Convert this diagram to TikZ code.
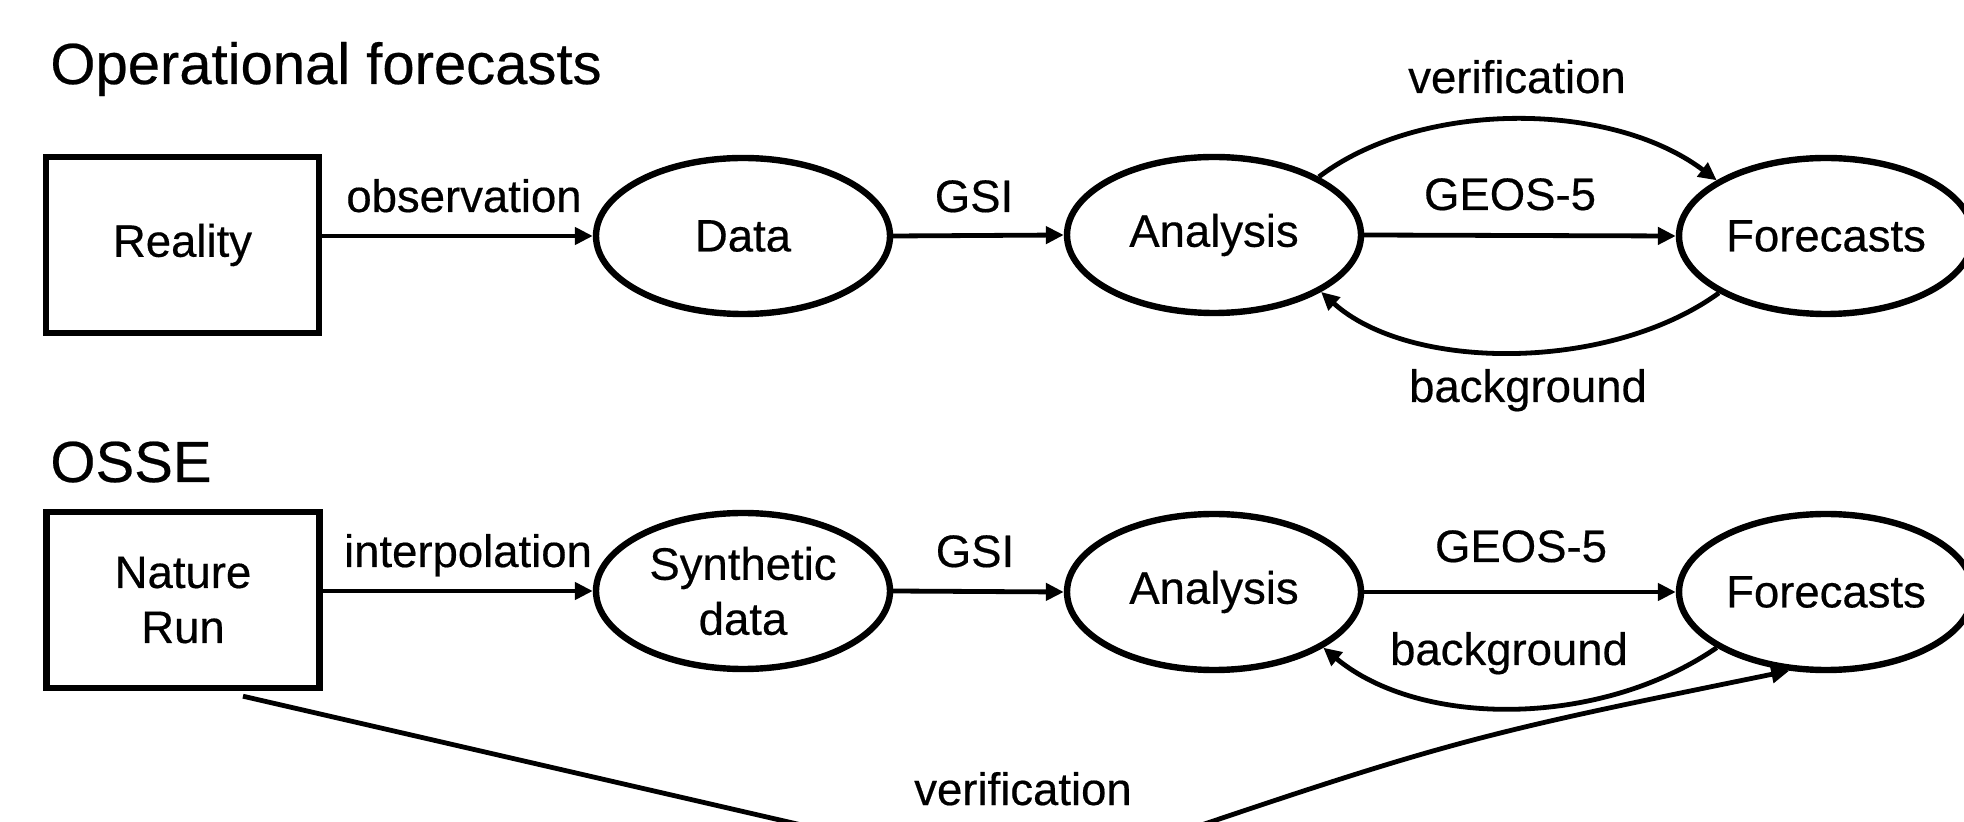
\documentclass[tikz,border=0pt]{standalone}
\usepackage{fontspec}
\setmainfont{Liberation Sans}[FakeBold=0.4]
\usetikzlibrary{shapes.geometric,arrows.meta}
\tikzset{
  lab/.style={font=\fontsize{22.75}{27.5}\selectfont, inner sep=0pt},
  ttl/.style={font=\fontsize{29}{35}\selectfont, inner sep=0pt, anchor=base west},
  ell/.style={draw, ellipse, line width=3.2pt, minimum width=147pt, minimum height=78pt, inner sep=0pt,
              font=\fontsize{22.75}{27.5}\selectfont, align=center},
  boxn/.style={draw, rectangle, line width=3.2pt, minimum width=136.5pt, minimum height=88pt, inner sep=0pt,
              font=\fontsize{22.75}{27.5}\selectfont, align=center},
  arr/.style={line width=2.4pt, -{Triangle[length=9pt,width=8.5pt]}}
}
\begin{document}
\begin{tikzpicture}[x=0.5pt,y=-0.5pt]
\useasboundingbox (0,0) rectangle (1964,822);
\clip (0,0) rectangle (1964,822);
\fill[white] (0,0) rectangle (1964,822);
% titles
\node[ttl] (t1) at (50,84) {Operational forecasts};
\node[ttl] (t2) at (50,482) {OSSE};
% top row
\node[boxn] (R1) at (182.5,245) {Reality};
\node[ell] (D1) at (743,236) {Data};
\node[ell] (A1) at (1214,235) {Analysis};
\node[ell] (F1) at (1826,236) {Forecasts};
\draw[arr] (R1.east |- D1.west) -- (D1.west);
\draw[arr] (D1.east) -- (A1.west);
\draw[arr] (A1.east) -- (F1.west);
\node[lab, anchor=base] (lobs) at (464,212) {observation};
\node[lab, anchor=base] (lgsi1) at (974,212) {GSI};
\node[lab, anchor=base] (lgeo1) at (1510,210) {GEOS-5};
\draw[arr] (A1.29) .. controls (1420,100) and (1610,100) .. (F1.153);
\node[lab, anchor=base] (lver1) at (1517,93) {verification};
\draw[arr] (F1.208) .. controls (1610,372) and (1410,372) .. (A1.-28);
\node[lab, anchor=base] (lbg1) at (1528,402) {background};
% bottom row
\node[boxn] (NR) at (183,600) {Nature\\Run};
\node[ell] (S2) at (743,591) {Synthetic\\data};
\node[ell] (A2) at (1214,592) {Analysis};
\node[ell] (F2) at (1826,592) {Forecasts};
\draw[arr] (NR.east |- S2.west) -- (S2.west);
\draw[arr] (S2.east) -- (A2.west);
\draw[arr] (A2.east) -- (F2.west);
\node[lab, anchor=base] (lint) at (468,567) {interpolation};
\node[lab, anchor=base] (lgsi2) at (975,567) {GSI};
\node[lab, anchor=base] (lgeo2) at (1521,562) {GEOS-5};
\draw[arr] (F2.207) .. controls (1600,728) and (1420,728) .. (A2.-27);
\node[lab, anchor=base] (lbg2) at (1509,665) {background};
\coordinate (vlow) at (1040,880);
\draw[arr] ([xshift=30pt,yshift=-2.5pt]NR.south) -- (vlow) .. controls (1450,740) .. (F2.245);
\node[lab, anchor=base] (lver2) at (1023,805) {verification};
\end{tikzpicture}
\end{document}
